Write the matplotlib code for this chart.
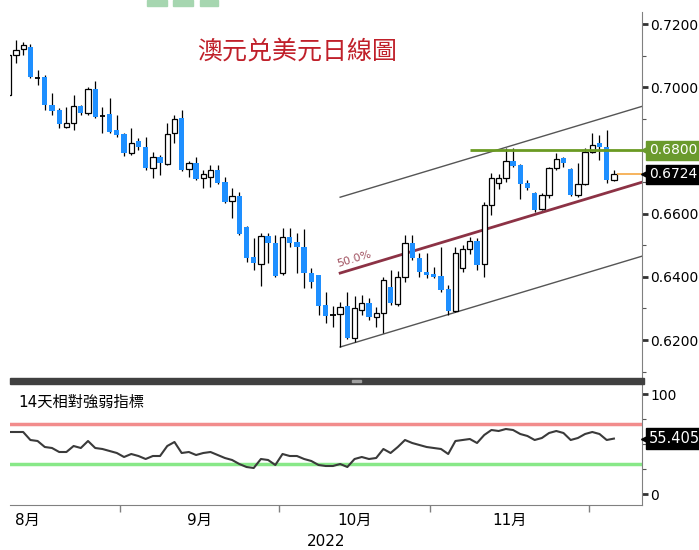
import numpy as np
import pandas as pd
import matplotlib
matplotlib.use('Agg')
import matplotlib.pyplot as plt
from matplotlib.patches import Rectangle

# DejaVu 畫數字, 中文字回退到 Noto CJK
plt.rcParams['font.family'] = ['DejaVu Sans', 'Noto Sans CJK TC']

# 日K數據 (2022-08-10 起, 讀自原圖)
opens = [0.6975, 0.7102, 0.7121, 0.7127, 0.7032, 0.7032, 0.6944, 0.6928, 0.6874, 0.6887,
         0.6941, 0.6918, 0.6994, 0.6912, 0.6915, 0.6865, 0.6852, 0.6792, 0.6830, 0.6811,
         0.6744, 0.6779, 0.6757, 0.6855, 0.6903, 0.6741, 0.6760, 0.6713, 0.6716, 0.6738,
         0.6700, 0.6640, 0.6656, 0.6558, 0.6463, 0.6441, 0.6529, 0.6507, 0.6412, 0.6526,
         0.6510, 0.6494, 0.6412, 0.6406, 0.6311, 0.6282, 0.6282, 0.6307, 0.6206, 0.6295,
         0.6317, 0.6273, 0.6285, 0.6368, 0.6314, 0.6399, 0.6507, 0.6459, 0.6415, 0.6409,
         0.6403, 0.6361, 0.6292, 0.6428, 0.6488, 0.6513, 0.6441, 0.6627, 0.6697, 0.6713,
         0.6766, 0.6754, 0.6697, 0.6665, 0.6615, 0.6659, 0.6744, 0.6776, 0.6741, 0.6659,
         0.6694, 0.6795, 0.6823, 0.6811, 0.6706]
highs = [0.7105, 0.7149, 0.7143, 0.7137, 0.7054, 0.7039, 0.6982, 0.6934, 0.6937, 0.6975,
         0.6944, 0.7001, 0.7020, 0.6937, 0.6966, 0.6912, 0.6855, 0.6871, 0.6839, 0.6842,
         0.6795, 0.6785, 0.6887, 0.6912, 0.6928, 0.6766, 0.6779, 0.6738, 0.6754, 0.6754,
         0.6716, 0.6681, 0.6668, 0.6561, 0.6523, 0.6539, 0.6539, 0.6532, 0.6554, 0.6554,
         0.6539, 0.6551, 0.6428, 0.6406, 0.6352, 0.6307, 0.6320, 0.6352, 0.6340, 0.6342,
         0.6333, 0.6304, 0.6399, 0.6421, 0.6418, 0.6532, 0.6532, 0.6475, 0.6475, 0.6431,
         0.6494, 0.6374, 0.6494, 0.6501, 0.6526, 0.6523, 0.6637, 0.6728, 0.6725, 0.6808,
         0.6808, 0.6757, 0.6706, 0.6668, 0.6665, 0.6747, 0.6792, 0.6779, 0.6744, 0.6760,
         0.6808, 0.6855, 0.6849, 0.6865, 0.6738]
lows = [0.6972, 0.7077, 0.7102, 0.7029, 0.7007, 0.6928, 0.6912, 0.6871, 0.6871, 0.6865,
        0.6912, 0.6912, 0.6903, 0.6855, 0.6855, 0.6842, 0.6782, 0.6785, 0.6801, 0.6738,
        0.6713, 0.6722, 0.6754, 0.6823, 0.6735, 0.6716, 0.6706, 0.6681, 0.6684, 0.6694,
        0.6633, 0.6586, 0.6532, 0.6447, 0.6421, 0.6371, 0.6444, 0.6399, 0.6406, 0.6494,
        0.6412, 0.6364, 0.6364, 0.6279, 0.6254, 0.6241, 0.6178, 0.6203, 0.6194, 0.6279,
        0.6263, 0.6241, 0.6222, 0.6311, 0.6307, 0.6384, 0.6453, 0.6399, 0.6396, 0.6396,
        0.6352, 0.6279, 0.6289, 0.6415, 0.6472, 0.6421, 0.6399, 0.6596, 0.6678, 0.6700,
        0.6747, 0.6646, 0.6675, 0.6605, 0.6611, 0.6649, 0.6738, 0.6747, 0.6656, 0.6652,
        0.6690, 0.6792, 0.6770, 0.6697, 0.6703]
closes = [0.7102, 0.7118, 0.7134, 0.7032, 0.7030, 0.6944, 0.6925, 0.6884, 0.6887, 0.6941,
          0.6918, 0.6994, 0.6906, 0.6910, 0.6858, 0.6849, 0.6792, 0.6823, 0.6811, 0.6744,
          0.6779, 0.6760, 0.6852, 0.6899, 0.6738, 0.6760, 0.6709, 0.6725, 0.6738, 0.6697,
          0.6637, 0.6656, 0.6535, 0.6459, 0.6444, 0.6529, 0.6507, 0.6403, 0.6526, 0.6507,
          0.6494, 0.6412, 0.6384, 0.6307, 0.6276, 0.6279, 0.6304, 0.6206, 0.6301, 0.6317,
          0.6273, 0.6285, 0.6390, 0.6317, 0.6399, 0.6507, 0.6459, 0.6415, 0.6406, 0.6399,
          0.6358, 0.6292, 0.6475, 0.6488, 0.6513, 0.6437, 0.6627, 0.6713, 0.6713, 0.6766,
          0.6751, 0.6694, 0.6681, 0.6611, 0.6659, 0.6744, 0.6773, 0.6760, 0.6659, 0.6694,
          0.6795, 0.6817, 0.6811, 0.6706, 0.6724]
# 14天RSI
rsi = [62, 62, 62, 54, 53, 47, 46, 42, 42, 48,
       46, 53, 46, 45, 43, 41, 37, 40, 38, 35,
       38, 38, 48, 52, 41, 42, 39, 41, 42, 39,
       36, 34, 30, 27, 26, 35, 34, 29, 40, 38,
       38, 35, 33, 29, 28, 28, 30, 27, 35, 37,
       35, 36, 45, 41, 47, 54, 51, 49, 47, 46,
       45, 40, 53, 54, 55, 51, 59, 64, 63, 65,
       64, 60, 58, 54, 56, 61, 63, 61, 54, 56,
       60, 62, 60, 54, 55.4055]

dates = pd.bdate_range('2022-08-10', periods=len(closes))

title = '澳元兑美元日線圖'
rsi_title = '14天相對強弱指標'
price_ticks = [0.62, 0.64, 0.66, 0.68, 0.70, 0.72]
resistance = 0.6800
# 上升通道 (起點 index, 上/中/下線起點價, 每日斜率)
chan_start = 46
chan_upper0, chan_mid0, chan_lower0 = 0.6652, 0.6412, 0.6178
chan_slope = 0.000686
res_start = 64

W, H = 699, 550


def px_box(x0, y0, x1, y1):
    # 像素 -> figure 座標
    return [x0 / W, 1 - y1 / H, (x1 - x0) / W, (y1 - y0) / H]


fig = plt.figure(figsize=(W / 100, H / 100), dpi=100)
ax = fig.add_axes(px_box(10, 12, 642, 378))
ax2 = fig.add_axes(px_box(10, 384, 642, 505), sharex=ax)

x = np.arange(len(closes))
o, h, l, c = map(np.array, (opens, highs, lows, closes))
up = c >= o
doji = np.abs(c - o) < 0.0004
bw = 0.74

ax.set_xlim(0.17, 87.9)
ax.set_ylim(0.6080, 0.7238)

# 蠟燭
ax.vlines(x, l, h, color='black', lw=0.9, zorder=2)
m = up & ~doji
ax.bar(x[m], (c - o)[m], bottom=o[m], width=bw, facecolor='white', edgecolor='black', lw=0.9, zorder=3)
m = ~up & ~doji
ax.bar(x[m], (o - c)[m], bottom=c[m], width=bw, color='#1e8fff', lw=0, zorder=3)
ax.hlines(c[doji], x[doji] - bw / 2, x[doji] + bw / 2, color='black', lw=1.3, zorder=3)

# 通道線
cx = np.array([chan_start, 90])
for base, col, lw in [(chan_upper0, '#555555', 1.0), (chan_mid0, '#8c3245', 2.0), (chan_lower0, '#555555', 1.0)]:
    ax.plot(cx, base + chan_slope * (cx - chan_start), color=col, lw=lw, zorder=1)

p1 = ax.transData.transform((chan_start, chan_mid0))
p2 = ax.transData.transform((chan_start + 10, chan_mid0 + 10 * chan_slope))
ang = np.degrees(np.arctan2(p2[1] - p1[1], p2[0] - p1[0]))
ax.text(chan_start - 0.2, chan_mid0 + 0.0012, '50.0%', color='#a0505f', fontsize=8,
        rotation=ang, rotation_mode='anchor', ha='left', va='bottom')

# 阻力 0.68 與現價
ax.hlines(resistance, res_start, 90, color='#6a9a22', lw=2, zorder=4)
ax.hlines(closes[-1], x[-1] + 0.4, 90, color='#f5a742', lw=1.2, zorder=4)

yt = ax.get_yaxis_transform()
for val, col in [(resistance, '#6a9a2d'), (closes[-1], 'black')]:
    ax.plot([1.006], [val], marker='<', ms=7, color=col, transform=yt, clip_on=False, zorder=6)
    ax.text(1.011, val, f'{val:.4f}', transform=yt, color='white', fontsize=10, ha='left', va='center',
            bbox=dict(boxstyle='square,pad=0.2', fc=col, ec=col), zorder=6, clip_on=False)

ax.yaxis.tick_right()
ax.set_yticks(price_ticks)
ax.set_yticklabels(['' if abs(v - resistance) < 1e-9 else f'{v:.4f}' for v in price_ticks])
ax.set_yticks(np.arange(0.61, 0.725, 0.01), minor=True)
ax.tick_params(axis='y', which='major', length=4, width=2, color='#333333', labelsize=10, pad=2)
ax.tick_params(axis='y', which='minor', length=3, width=0.8, color='#555555')
ax.tick_params(axis='x', which='both', bottom=False, labelbottom=False)
for s in ['top', 'left', 'bottom']:
    ax.spines[s].set_visible(False)
ax.spines['right'].set_color('#808080')

fig.text(297 / W, 1 - 52 / H, title, color='#c0202a', fontsize=18, ha='center', va='center')

# RSI
ax2.set_ylim(-11, 110)
ax2.axhline(70, color='#f28c8c', lw=2.5, zorder=1)
ax2.axhline(30, color='#88e888', lw=2.5, zorder=1)
ax2.plot(x, rsi, color='#3a3a3a', lw=1.5, zorder=2)
ax2.text(0.013, 0.85, rsi_title, transform=ax2.transAxes, fontsize=11, va='center', ha='left')

yt2 = ax2.get_yaxis_transform()
ax2.plot([1.006], [rsi[-1]], marker='<', ms=7, color='black', transform=yt2, clip_on=False, zorder=6)
ax2.text(1.011, rsi[-1], f'{rsi[-1]:.4f}', transform=yt2, color='white', fontsize=10.5, ha='left', va='center',
         bbox=dict(boxstyle='square,pad=0.2', fc='black', ec='black'), zorder=6, clip_on=False)

ax2.yaxis.tick_right()
ax2.set_yticks([0, 100])
ax2.set_yticks([25, 50, 75], minor=True)
ax2.tick_params(axis='y', which='major', length=4, width=2, color='#333333', labelsize=10, pad=2)
ax2.tick_params(axis='y', which='minor', length=3, width=0.8, color='#555555')

# 月份刻度: 月份交界畫刻度, 月中放標籤
bounds = [i - 0.5 for i in range(1, len(dates)) if dates[i].month != dates[i - 1].month]
lab_pos, lab_txt = [], []
for mth in pd.unique(dates.month):
    idx = np.where(dates.month == mth)[0]
    if len(idx) < 10:
        continue
    lab_pos.append(idx.mean() if idx[0] > 0 else idx[0] + 2.6)
    lab_txt.append(f'{mth}月')
ax2.set_xticks(bounds)
ax2.set_xticklabels([''] * len(bounds))
ax2.set_xticks(lab_pos, minor=True)
ax2.set_xticklabels(lab_txt, minor=True)
ax2.tick_params(axis='x', which='major', length=5, width=1, color='#808080')
ax2.tick_params(axis='x', which='minor', length=0, labelsize=11, pad=6)
ax2.text(0.5, -0.30, str(dates[0].year), transform=ax2.transAxes, fontsize=11, ha='center', va='center')
for s in ['top', 'left']:
    ax2.spines[s].set_visible(False)
ax2.spines['right'].set_color('#808080')
ax2.spines['bottom'].set_color('#808080')

# 分隔條與頂部標誌色塊
fig.patches.append(Rectangle((10 / W, 1 - 384 / H), 634 / W, 6 / H, transform=fig.transFigure,
                             color='#404040', zorder=0))
fig.patches.append(Rectangle((352 / W, 1 - 382 / H), 9 / W, 2 / H, transform=fig.transFigure,
                             color='#a0a0a0', zorder=1))
for x0, x1 in [(147, 167), (173, 193), (200, 218)]:
    fig.patches.append(Rectangle((x0 / W, 1 - 6 / H), (x1 - x0) / W, 6 / H, transform=fig.transFigure,
                                 color='#a6d6b0', zorder=0))

fig.savefig('out.png', dpi=100)
